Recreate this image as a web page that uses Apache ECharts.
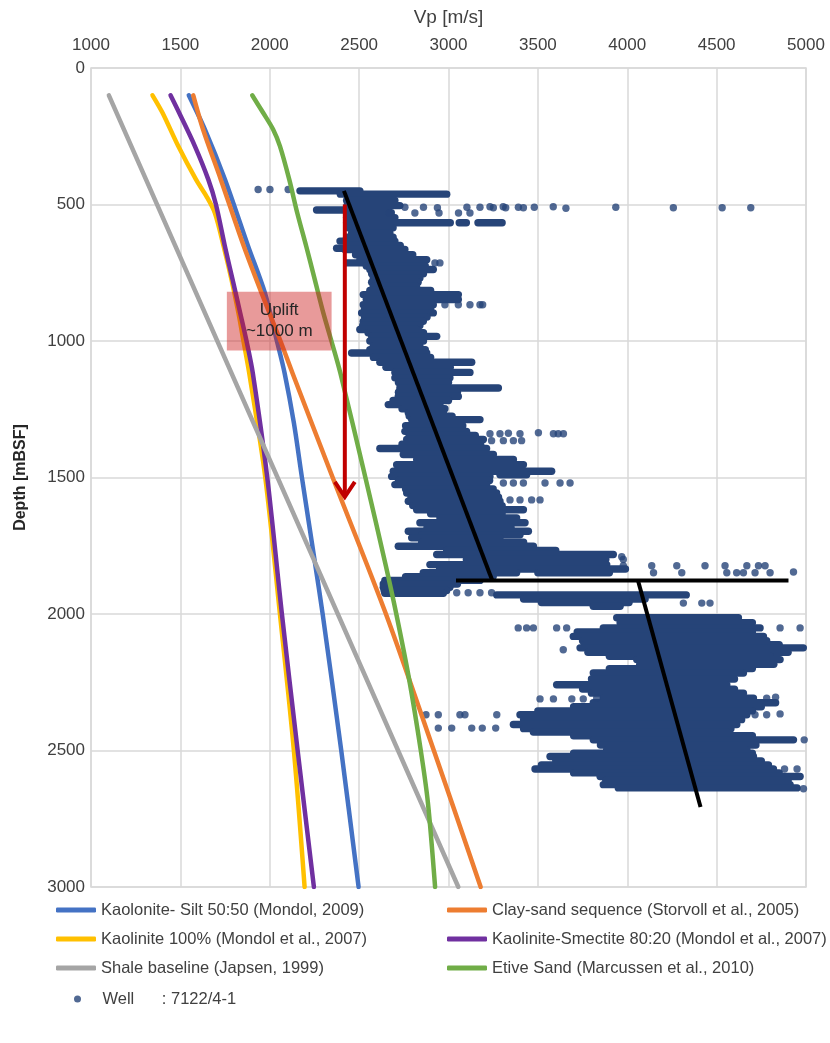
<!DOCTYPE html>
<html>
<head>
<meta charset="utf-8">
<script src="https://cdn.jsdelivr.net/npm/echarts@6/dist/echarts.min.js"></script>
<style>
  html, body { margin: 0; padding: 0; background: #ffffff; }
  #chart { width: 830px; height: 1043px; }
</style>
</head>
<body>
<div id="chart"></div>
<script>
// ---- Compaction trend curves: [Vp (m/s), depth (mBSF)] ----
const kaoliniteSilt = [[1547,100],[1637,225],[1749,408],[1879,653],[1973,824],[2040,1000],[2083,1117],[2135,1300],[2180,1500],[2250,1800],[2296,2000],[2400,2500],[2497,3000]];
const claySand = [[1572,100],[1627,225],[1726,408],[1855,653],[1954,824],[2060,1000],[2127,1117],[2352,1500],[2650,2000],[2918,2500],[3180,3000]];
const kaolinite100 = [[1344,100],[1400,164],[1488,286],[1587,408],[1646,470],[1693,531],[1742,653],[1786,775],[1825,898],[1853,1000],[1885,1117],[1975,1500],[2057,2000],[2135,2500],[2195,3000]];
const kaoliniteSmectite = [[1445,100],[1493,164],[1581,286],[1656,408],[1699,500],[1749,653],[1792,775],[1835,898],[1870,1000],[1905,1117],[1986,1500],[2068,2000],[2156,2500],[2247,3000]];
const shaleBaseline = [[1100,100],[3055,3000]];
const etiveSand = [[1902,100],[1963,164],[2019,225],[2057,286],[2109,408],[2154,531],[2204,653],[2252,775],[2300,898],[2345,1000],[2395,1117],[2535,1500],[2650,1825],[2708,2000],[2780,2240],[2845,2500],[2885,2692],[2925,3000]];

// ---- Well 7122/4-1 sonic velocities ----
// Dense logged intervals: [depth, Vp from, Vp to]
const wellRuns = [
 [450,2169,2504],[462,2395,2990],[485,2430,2700],[504,2432,2728],[520,2262,2411],[530,2430,2680],
 [548,2430,2700],[567,2430,3010],[567,3060,3100],[567,3165,3300],[585,2440,2690],[604,2458,2672],
 [620,2430,2690],[634,2393,2700],[650,2430,2730],[660,2374,2411],[665,2420,2756],[684,2480,2800],
 [702,2504,2878],[714,2430,2542],[725,2540,2870],[738,2560,2915],[754,2570,2860],[769,2579,2840],
 [785,2570,2830],[800,2579,2821],[815,2560,2900],[830,2523,3055],[848,2540,3055],[867,2523,2915],
 [882,2530,2900],[897,2514,2915],[912,2530,2880],[928,2523,2859],[943,2520,2840],[958,2504,2822],
 [970,2550,2860],[983,2570,2934],[1000,2560,2860],[1019,2579,2840],[1032,2560,2870],[1044,2458,2878],
 [1060,2580,2900],[1078,2616,3130],[1096,2650,3010],[1115,2700,3120],[1135,2700,3008],[1152,2720,3000],
 [1172,2728,3279],[1188,2720,3050],[1203,2719,3055],[1218,2690,3000],[1233,2663,2952],[1248,2740,2980],
 [1263,2775,2971],[1275,2780,3020],[1288,2794,3176],[1310,2760,3080],[1331,2756,3101],[1346,2780,3150],
 [1361,2766,3195],[1378,2740,3180],[1394,2616,3213],[1416,2747,3251],[1434,2822,3363],[1453,2710,3419],
 [1477,2691,3577],[1490,3288,3437],[1496,2682,3232],[1511,2720,3230],[1526,2700,3213],[1542,2760,3250],
 [1557,2766,3269],[1572,2790,3280],[1587,2775,3288],[1603,2800,3300],[1618,2822,3419],[1633,2900,3300],
 [1648,2952,3381],[1666,2840,3428],[1682,2880,3350],[1697,2775,3447],[1710,2850,3400],[1721,2794,3288],
 [1737,2850,3420],[1752,2719,3475],[1767,2990,3600],[1782,2934,3922],[1800,3100,3880],[1819,2896,3885],
 [1835,2950,3990],[1849,2859,3381],[1849,3500,3900],[1863,2760,3250],[1877,2644,3176],[1890,2635,3050],
 [1902,2635,3008],[1914,2640,2990],[1924,2644,2971],[1930,3270,4330],[1945,3420,4100],[1958,3520,4010],
 [1972,3810,3960],
 [2014,3941,4622],[2032,3960,4700],[2051,3866,4743],[2066,3720,4700],[2082,3698,4762],[2098,3750,4780],
 [2112,3760,4850],[2124,3736,4985],[2140,3780,4900],[2155,3900,4800],[2167,4053,4855],[2184,4070,4820],
 [2200,3900,4700],[2216,3810,4650],[2238,3800,4600],[2259,3605,4557],[2275,3750,4600],[2290,3800,4650],
 [2308,3866,4706],[2325,3810,4830],[2340,3700,4750],[2355,3500,4700],[2369,3400,4669],[2387,3420,4640],
 [2405,3363,4613],[2420,3420,4580],[2432,3475,4557],[2446,3700,4700],[2461,3810,4930],[2480,3850,4720],
 [2497,3885,4669],[2510,3700,4700],[2522,3568,4706],[2538,3600,4750],[2553,3520,4790],[2568,3484,4818],
 [2582,3700,4850],[2595,3848,4967],[2610,3880,4900],[2625,3866,4911],[2637,3950,4950]
];
// Individual readings: [Vp, depth]
const wellPoints = [
 [1935,445],[2001,445],[2103,445],
 [2756,510],[2860,510],[2938,512],[3103,510],[3176,510],[3232,508],[3251,512],[3306,508],[3320,512],
 [3391,510],[3419,512],[3480,510],[3586,508],[3657,514],[3936,510],[4258,512],[4531,512],[4691,512],
 [2669,531],[2812,531],[2947,531],[3056,531],[3120,531],
 [2924,714],[2952,714],
 [2980,867],[3055,867],[3120,867],[3176,867],[3191,867],
 [3232,1340],[3288,1340],[3335,1338],[3400,1340],[3503,1336],[3587,1340],[3614,1340],[3643,1340],
 [3241,1365],[3307,1365],[3363,1365],[3409,1365],
 [3307,1520],[3363,1520],[3419,1520],[3540,1520],[3624,1520],[3680,1520],
 [3344,1582],[3400,1582],[3465,1582],[3512,1582],
 [3969,1790],[3978,1800],
 [3978,1823],[4137,1823],[4277,1823],[4435,1823],[4547,1823],[4669,1823],[4734,1823],[4771,1823],
 [4147,1849],[4305,1849],[4557,1849],[4612,1849],[4650,1849],[4715,1849],[4799,1849],[4930,1846],
 [3046,1922],[3110,1922],[3176,1922],[3241,1922],
 [4314,1960],[4417,1960],[4463,1960],
 [3390,2051],[3437,2051],[3475,2051],[3605,2051],[3661,2051],[4855,2051],[4967,2051],
 [3642,2131],
 [3512,2311],[3587,2311],[3690,2311],[3754,2311],[3829,2308],[4780,2308],[4830,2305],
 [2874,2369],[2943,2369],[3064,2369],[3092,2369],[3270,2369],[4715,2369],[4780,2369],[4855,2366],
 [2943,2418],[3018,2418],[3130,2418],[3189,2418],[3264,2418],
 [4990,2461],[4880,2568],[4950,2568],[4986,2640]
];

// ---- Interpretation overlays ----
const trendUpper = [[2415,450],[3245,1877]];
const trendBoundary = [[3042,1877],[4902,1877]];
const trendLower = [[4060,1877],[4410,2707]];
const upliftArrow = [[2420,500,1578]];          // [Vp, depth from, depth to]
const upliftBox = [[1760,2346,820,1035]];       // [Vp from, Vp to, depth from, depth to]
const upliftText = 'Uplift\n~1000 m';

const seriesNames = [
  'Kaolonite- Silt 50:50 (Mondol, 2009)',
  'Clay-sand sequence (Storvoll et al., 2005)',
  'Kaolinite 100% (Mondol et al., 2007)',
  'Kaolinite-Smectite 80:20 (Mondol et al., 2007)',
  'Shale baseline (Japsen, 1999)',
  'Etive Sand (Marcussen et al., 2010)',
  'Well      : 7122/4-1'
];
const seriesColors = ['#4472C4','#ED7D31','#FFC000','#7030A0','#A5A5A5','#70AD47','#264478'];
const curveData = [kaoliniteSilt, claySand, kaolinite100, kaoliniteSmectite, shaleBaseline, etiveSand];

const FONT = "'Liberation Sans Narrow', 'Liberation Sans', sans-serif";
const TEXT = '#404040';
const WELL = seriesColors[6];
const DOT = 7.4;

const chart = echarts.init(document.getElementById('chart'), null, { renderer: 'canvas' });

const curveSeries = curveData.map((d, i) => ({
  name: seriesNames[i],
  type: 'line',
  data: d,
  smooth: 0.3,
  showSymbol: false,
  symbol: 'none',
  lineStyle: { color: seriesColors[i], width: 4.5, cap: 'round', join: 'round' },
  itemStyle: { color: seriesColors[i] },
  z: 3,
  silent: true
}));

const trendSeries = [trendUpper, trendBoundary, trendLower].map(d => ({
  type: 'line',
  data: d,
  showSymbol: false,
  symbol: 'none',
  lineStyle: { color: '#000000', width: 4 },
  z: 5,
  silent: true
}));

// legend placement (one legend per entry, two columns)
const legendText = { fontFamily: FONT, fontSize: 16.5, lineHeight: 20, color: TEXT };
const legendSlots = [
  [56, 910], [447, 910],
  [56, 939], [447, 939],
  [56, 968], [447, 968]
];
const legends = legendSlots.map((p, i) => ({
  data: [seriesNames[i]],
  left: p[0], top: p[1] - 10,
  icon: 'roundRect',
  itemWidth: 40, itemHeight: 5,
  selectedMode: false,
  padding: 0,
  textStyle: legendText
}));
legends.push({
  data: [seriesNames[6]],
  left: 74, top: 999 - 10,
  icon: 'circle',
  itemWidth: 40, itemHeight: 7,
  selectedMode: false,
  padding: 0,
  textStyle: legendText
});

const plainNumber = v => String(v);

chart.setOption({
  backgroundColor: '#ffffff',
  animation: false,
  legend: legends,
  grid: { left: 91, right: 24, top: 68, bottom: 156, show: true, borderColor: '#D9D9D9', borderWidth: 1.5 },
  xAxis: {
    type: 'value',
    position: 'top',
    min: 1000, max: 5000, interval: 500,
    name: 'Vp [m/s]',
    nameLocation: 'middle',
    nameGap: 41,
    nameTextStyle: { fontFamily: FONT, fontSize: 19, color: TEXT },
    axisLine: { show: false },
    axisTick: { show: false },
    axisLabel: { fontFamily: FONT, fontSize: 17, color: TEXT, margin: 14, formatter: plainNumber },
    splitLine: { show: true, lineStyle: { color: '#D9D9D9', width: 1.5 } }
  },
  yAxis: {
    type: 'value',
    inverse: true,
    min: 0, max: 3000, interval: 500,
    name: 'Depth [mBSF]',
    nameLocation: 'middle',
    nameRotate: 90,
    nameGap: 62,
    nameTextStyle: { fontFamily: FONT, fontSize: 16, fontWeight: 'bold', color: '#262626' },
    axisLine: { show: false },
    axisTick: { show: false },
    axisLabel: { fontFamily: FONT, fontSize: 17, color: TEXT, margin: 6, formatter: plainNumber },
    splitLine: { show: true, lineStyle: { color: '#D9D9D9', width: 1.5 } }
  },
  series: [
    {
      type: 'custom',
      data: wellRuns,
      encode: { x: [1, 2], y: 0 },
      z: 2,
      silent: true,
      renderItem: (params, api) => {
        const d = api.value(0);
        const p1 = api.coord([api.value(1), d]);
        const p2 = api.coord([api.value(2), d]);
        return {
          type: 'line',
          shape: { x1: p1[0], y1: p1[1], x2: p2[0], y2: p2[1] },
          style: { stroke: WELL, lineWidth: DOT, lineCap: 'round' }
        };
      }
    },
    {
      name: seriesNames[6],
      type: 'scatter',
      data: wellPoints,
      symbol: 'circle',
      symbolSize: DOT,
      itemStyle: { color: WELL },
      z: 2,
      silent: true
    },
    ...curveSeries,
    ...trendSeries,
    {
      // uplift arrow
      type: 'custom',
      data: upliftArrow,
      encode: { x: 0, y: [1, 2] },
      z: 6,
      silent: true,
      renderItem: (params, api) => {
        const top = api.coord([api.value(0), api.value(1)]);
        const tip = api.coord([api.value(0), api.value(2)]);
        const s = { stroke: '#C00000', lineWidth: 4, fill: null, lineJoin: 'miter' };
        return {
          type: 'group',
          children: [
            { type: 'line', shape: { x1: top[0], y1: top[1], x2: tip[0], y2: tip[1] - 2 }, style: s },
            { type: 'polyline', shape: { points: [[tip[0] - 10, tip[1] - 17], [tip[0], tip[1] - 2], [tip[0] + 10, tip[1] - 17]] }, style: s }
          ]
        };
      }
    },
    {
      // uplift annotation box
      type: 'custom',
      data: upliftBox,
      encode: { x: [0, 1], y: [2, 3] },
      z: 7,
      silent: true,
      renderItem: (params, api) => {
        const a = api.coord([api.value(0), api.value(2)]);
        const b = api.coord([api.value(1), api.value(3)]);
        return {
          type: 'group',
          children: [
            { type: 'rect', shape: { x: a[0], y: a[1], width: b[0] - a[0], height: b[1] - a[1] },
              style: { fill: 'rgba(205,30,30,0.45)' } },
            { type: 'text', x: (a[0] + b[0]) / 2, y: (a[1] + b[1]) / 2,
              style: { text: upliftText, fontFamily: FONT, fontSize: 17, lineHeight: 21,
                       fill: '#262626', align: 'center', verticalAlign: 'middle' } }
          ]
        };
      }
    }
  ]
});
</script>
</body>
</html>
